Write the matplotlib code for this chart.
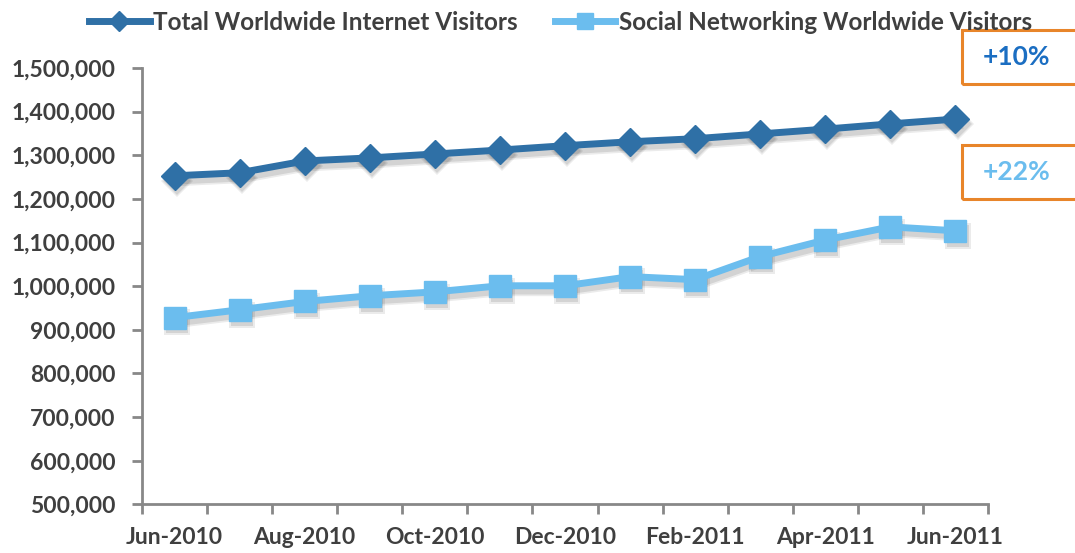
import matplotlib
matplotlib.use("Agg")
import matplotlib.pyplot as plt
import matplotlib.transforms as mtransforms
from matplotlib.ticker import FuncFormatter
from matplotlib.patches import Rectangle

months = ["Jun-2010", "Jul-2010", "Aug-2010", "Sep-2010", "Oct-2010", "Nov-2010",
          "Dec-2010", "Jan-2011", "Feb-2011", "Mar-2011", "Apr-2011", "May-2011", "Jun-2011"]
total_visitors = [1253000, 1260000, 1287000, 1294000, 1303000, 1312000, 1322000,
                  1331000, 1338000, 1349000, 1360000, 1372000, 1383000]
social_visitors = [928000, 946000, 965000, 978000, 987000, 1001000, 1001000,
                   1022000, 1015000, 1068000, 1106000, 1136000, 1127000]
series_names = ["Total Worldwide Internet Visitors", "Social Networking Worldwide Visitors"]
growth_labels = ["+10%", "+22%"]

DARK = "#2F70A6"
LIGHT = "#6BBDEE"
TXT = "#3F3F3F"
FONT = "Lato"

fig = plt.figure(figsize=(10.75, 5.53), dpi=100)
ax = fig.add_axes([0.1321, 0.0879, 0.7870, 0.7891])

x = list(range(len(months)))
shadow_tr = mtransforms.offset_copy(ax.transData, fig=fig, x=1.5, y=-3.5, units="points")
for vals, mk, ms in [(total_visitors, "D", 14), (social_visitors, "s", 16)]:
    for a, lw in [(0.08, 8), (0.10, 5.5)]:
        ax.plot(x, vals, color="black", alpha=a, lw=lw, marker=mk, ms=ms + (lw - 5.5),
                markeredgewidth=0, transform=shadow_tr, zorder=2, solid_joinstyle="round")

l1, = ax.plot(x, total_visitors, color=DARK, lw=5, marker="D", ms=14.5,
              markeredgecolor=DARK, label=series_names[0], zorder=3)
l2, = ax.plot(x, social_visitors, color=LIGHT, lw=5, marker="s", ms=16.5,
              markeredgecolor=LIGHT, label=series_names[1], zorder=3)

ax.set_xlim(-0.5, len(months) - 0.5)
ax.set_ylim(500000, 1500000)
ax.set_yticks(range(500000, 1500001, 100000))
ax.yaxis.set_major_formatter(FuncFormatter(lambda v, p: f"{int(v):,}"))

bounds = [i - 0.5 for i in range(len(months) + 1)]
ax.set_xticks(bounds)
ax.set_xticklabels([""] * len(bounds))
ax.set_xticks(x[::2], minor=True)
ax.set_xticklabels(months[::2], minor=True)
ax.tick_params(axis="x", which="minor", length=0, pad=16)
ax.tick_params(axis="x", which="major", length=7, width=2, color="#888888", direction="out")
ax.tick_params(axis="y", length=7, width=2, color="#888888", direction="out", pad=12)

for lab in ax.get_xticklabels(minor=True) + ax.get_yticklabels():
    lab.set_fontfamily(FONT)
    lab.set_fontweight("bold")
    lab.set_fontsize(16.5)
    lab.set_color(TXT)

for s in ["top", "right"]:
    ax.spines[s].set_visible(False)
for s in ["left", "bottom"]:
    ax.spines[s].set_color("#888888")
    ax.spines[s].set_linewidth(2)

leg = fig.legend(handles=[l1, l2], loc="upper left", bbox_to_anchor=(0.0625, 1.02), ncol=2,
                 frameon=False, handlelength=2.5, handletextpad=0.15, columnspacing=1.5,
                 prop={"family": FONT, "weight": "bold", "size": 17.5}, markerscale=0.7)
for t in leg.get_texts():
    t.set_color(TXT)

# growth boxes
box_specs = [(0.895, 0.848, growth_labels[0], "#1B6EC2"), (0.895, 0.640, growth_labels[1], LIGHT)]
for bx, by, lab, col in box_specs:
    fig.patches.append(Rectangle((bx, by), 0.12, 0.098, transform=fig.transFigure,
                                 fill=False, edgecolor="#E8852A", lw=2.2))
    fig.text(0.946, by + 0.049, lab, color=col, ha="center", va="center",
             fontfamily=FONT, fontweight="bold", fontsize=19)

fig.savefig("out.png", dpi=100)
